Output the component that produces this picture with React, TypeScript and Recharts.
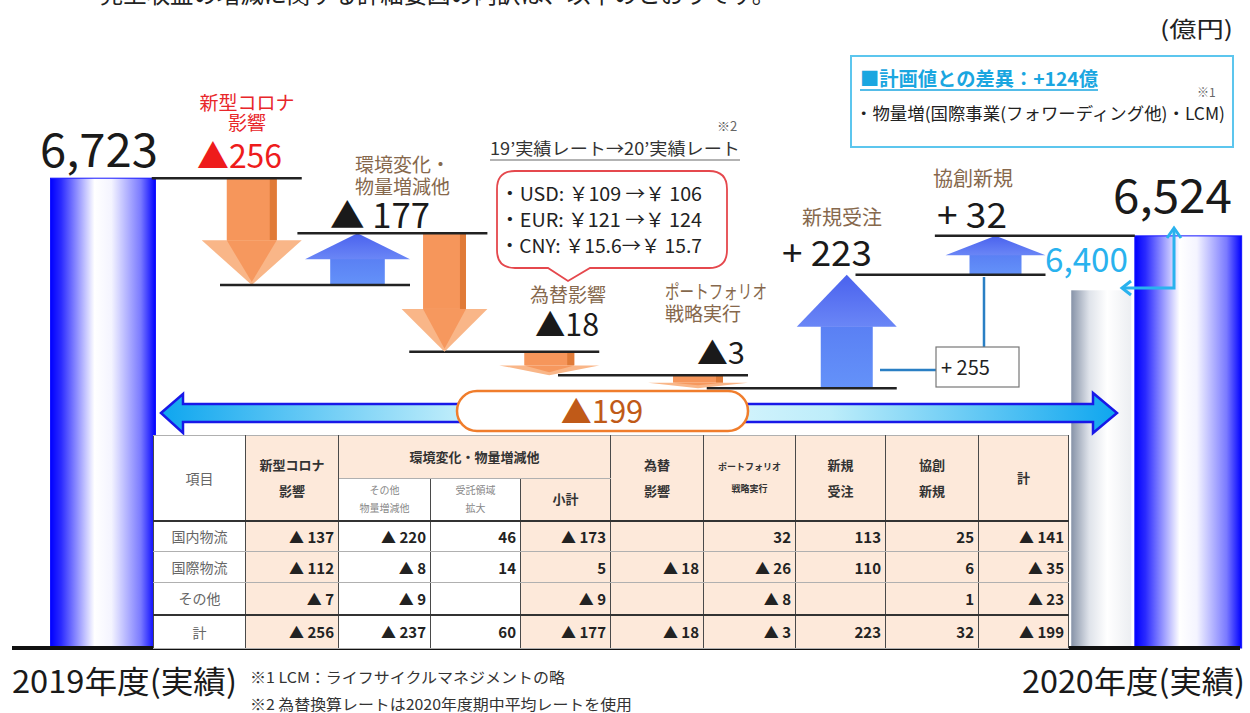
import React from "react"
import { ComposedChart, Bar, XAxis, YAxis } from "recharts"

const W = 1250
const H = 713
const FONT = "'Noto Sans CJK JP', 'Noto Sans', sans-serif"

// 億円
const AXIS_MIN = 5700
const AXIS_MAX = 6800

const categories = [
  "2019年度(実績)",
  "新型コロナ影響",
  "環境変化・物量増減他",
  "為替影響",
  "ポートフォリオ戦略実行",
  "新規受注",
  "協創新規",
  "2020年度(実績)",
]
const actual2019 = 6723
const actual2020 = 6524
const plan2020 = 6400
const planDiff = 124

// waterfall steps (環境変化 = 受託領域拡大 +60 と その他物量増減 ▲237)
const stepCats = [
  "新型コロナ影響",
  "環境変化・物量増減他",
  "環境変化・物量増減他",
  "為替影響",
  "ポートフォリオ戦略実行",
  "新規受注",
  "協創新規",
]
const stepDeltas = [-256, 60, -237, -18, -3, 223, 32]
const stepSlots = ["main", "left", "right", "main", "main", "main", "main"]

// table
const tableRowNames = ["国内物流", "国際物流", "その他", "計"]
const rowDomestic = [-137, -220, 46, -173, null, 32, 113, 25, -141]
const rowIntl = [-112, -8, 14, 5, -18, -26, 110, 6, -35]
const rowOther = [-7, -9, null, -9, null, -8, null, 1, -23]
const rowTotal = [-256, -237, 60, -177, -18, -3, 223, 32, -199]
const tableRows = [rowDomestic, rowIntl, rowOther, rowTotal]

const fxRates = ["・USD: ￥109 →￥ 106", "・EUR: ￥121 →￥ 124", "・CNY: ￥15.6→￥ 15.7"]

// build chart rows
const data: any[] = categories.map((name) => ({ name }))
data[0].main = [AXIS_MIN, actual2019]
data[0].mainKind = "total"
let level = actual2019
stepDeltas.forEach((d, i) => {
  const row = data.find((r) => r.name === stepCats[i])
  const next = level + d
  const slot = stepSlots[i]
  row[slot] = [Math.min(level, next), Math.max(level, next)]
  row[slot + "Kind"] = d < 0 ? "down" : "up"
  if (i === 0) row.afterTotal = true
  level = next
})
const last = data[data.length - 1]
last.left = [AXIS_MIN, plan2020]
last.leftKind = "plan"
last.right = [AXIS_MIN, actual2020]
last.rightKind = "total"

const sumOf = (cat: string) =>
  stepDeltas.filter((_, i) => stepCats[i] === cat).reduce((a, b) => a + b, 0)
const fmtStep = (v: number, space = "") => (v < 0 ? "▲" + space + Math.abs(v) : "+ " + v)
const fmtCell = (v: number | null) => (v == null ? "" : v < 0 ? "▲ " + Math.abs(v) : String(v))
const fmtNum = (v: number) => v.toLocaleString("en-US")

// 原図の縦軸は模式図（小さな増減を拡大）なので区分線形スケールにする
const yBreaks: [number, number][] = [
  [5700, 0],
  [6269, 0.401],
  [6272, 0.421],
  [6290, 0.457],
  [6400, 0.552],
  [6467, 0.56],
  [6492, 0.576],
  [6524, 0.636],
  [6527, 0.64],
  [6723, 0.725],
  [6800, 1],
]

function piecewiseScale(breaks: [number, number][]): any {
  let dom = [breaks[0][0], breaks[breaks.length - 1][0]]
  let rng = [0, 1]
  const frac = (v: number) => {
    if (v <= breaks[0][0]) return breaks[0][1]
    for (let i = 1; i < breaks.length; i++) {
      const [v1, t1] = breaks[i]
      if (v <= v1) {
        const [v0, t0] = breaks[i - 1]
        return t0 + ((v - v0) / (v1 - v0)) * (t1 - t0)
      }
    }
    return breaks[breaks.length - 1][1]
  }
  const s: any = (v: any) => {
    const n = Number(v)
    if (v == null || !Number.isFinite(n)) return NaN
    return rng[0] + frac(n) * (rng[1] - rng[0])
  }
  s.domain = (d?: number[]) => {
    if (d === undefined) return dom.slice()
    dom = d.slice()
    return s
  }
  s.range = (r?: number[]) => {
    if (r === undefined) return rng.slice()
    rng = r.slice()
    return s
  }
  s.copy = () => piecewiseScale(breaks).domain(dom).range(rng)
  s.ticks = () => dom.slice()
  s.clamp = () => s
  s.nice = () => s
  s.invert = (px: number) => {
    const t = (px - rng[0]) / (rng[1] - rng[0])
    for (let i = 1; i < breaks.length; i++) {
      const [v1, t1] = breaks[i]
      const [v0, t0] = breaks[i - 1]
      if (t <= t1) return v0 + ((t - t0) / (t1 - t0)) * (v1 - v0)
    }
    return dom[1]
  }
  return s
}

const yScale = piecewiseScale(yBreaks)

const LINE = "#222"

const downArrow = (cx: number, top: number, bottom: number, w: number) => {
  const h = bottom - top
  const headH = Math.min(h * 0.42, w * 0.5)
  const sw = w * 0.5
  const hy = bottom - headH
  return (
    <g>
      <rect x={cx - sw / 2} y={top} width={sw} height={hy - top} fill="#f6965b" />
      <rect x={cx + sw / 2 - sw * 0.14} y={top} width={sw * 0.14} height={hy - top} fill="#e07b38" />
      <polygon points={`${cx - w / 2},${hy} ${cx + w / 2},${hy} ${cx},${bottom}`} fill="#f9b688" />
      <polygon points={`${cx - sw / 2},${hy} ${cx + sw / 2},${hy} ${cx},${bottom - 3}`} fill="#f6985e" />
    </g>
  )
}

const upArrow = (cx: number, top: number, bottom: number, w: number) => {
  const h = bottom - top
  const headH = Math.min(h * 0.5, w * 0.52)
  const sw = w * 0.52
  const hy = top + headH
  return (
    <g>
      <rect x={cx - sw / 2} y={hy - 0.5} width={sw} height={bottom - hy + 0.5} fill="url(#gUpShaft)" />
      <polygon points={`${cx},${top} ${cx + w / 2},${hy} ${cx - w / 2},${hy}`} fill="url(#gUpHead)" />
    </g>
  )
}

const shapeFor = (slot: string) => (p: any) => {
  const row = p.payload || {}
  const kind = row[slot + "Kind"]
  const { x, y, width, height } = p
  if (!kind || ![x, y, width, height].every((n: any) => Number.isFinite(n))) return <g />
  const top = Math.min(y, y + height)
  const bottom = Math.max(y, y + height)
  const cx = x + width / 2
  let f = 1
  if (slot === "main" && kind === "total") f = 1.05
  if (slot === "left" && kind === "up") f = 1.75
  if (slot === "right" && kind === "down") f = 1.43
  if (slot === "right" && kind === "total") f = 1.78
  const w = width * f
  const left = cx - w / 2
  const right = cx + w / 2
  const L = row.afterTotal ? 150 : 190

  if (kind === "total") {
    return (
      <g>
        <rect x={left} y={top} width={w} height={bottom - top} fill="url(#gTotal)" stroke="#1414ff" strokeWidth={1} />
        {slot === "right" && <line x1={left - 200} x2={left} y1={top} y2={top} stroke={LINE} strokeWidth={2.5} />}
      </g>
    )
  }
  if (kind === "plan") {
    return <rect x={left} y={top} width={w} height={bottom - top} fill="url(#gPlan)" />
  }
  if (kind === "down") {
    return (
      <g>
        {downArrow(cx, top, bottom, w)}
        <line x1={right - L} x2={right} y1={top} y2={top} stroke={LINE} strokeWidth={2.5} />
      </g>
    )
  }
  return (
    <g>
      {upArrow(cx, top, bottom, w)}
      <line x1={right - L} x2={right} y1={bottom} y2={bottom} stroke={LINE} strokeWidth={2.5} />
    </g>
  )
}

const BROWN = "#86684c"

const Annotations = () => (
  <svg width={W} height={H} style={{ position: "absolute", left: 0, top: 0, pointerEvents: "none" }} fontFamily={FONT}>
    {/* cut-off heading */}
    <text x={100} y={3} fontSize={24} fill="#222" textLength={675} lengthAdjust="spacingAndGlyphs">
      売上収益の増減に関する詳細要因の内訳は、以下のとおりです。
    </text>
    <text x={1160} y={37} fontSize={22} fill="#222" textLength={73} lengthAdjust="spacingAndGlyphs">(億円)</text>

    {/* plan box */}
    <rect x={851} y={56} width={382} height={91} fill="#fff" stroke="#5cc6ee" strokeWidth={2} />
    <text x={860} y={86} fontSize={19} fontWeight={700} fill="#1aa6e0" textLength={238} lengthAdjust="spacingAndGlyphs">
      {"■計画値との差異：+" + planDiff + "億"}
    </text>
    <line x1={860} x2={1098} y1={90} y2={90} stroke="#1aa6e0" strokeWidth={1.5} />
    <text x={1197} y={97} fontSize={12} fill="#666">※1</text>
    <text x={855} y={120} fontSize={17} fill="#222" textLength={370} lengthAdjust="spacingAndGlyphs">
      ・物量増(国際事業(フォワーディング他)・LCM)
    </text>

    {/* totals */}
    <text x={40} y={167} fontSize={46} fill="#1a1a1a" textLength={118} lengthAdjust="spacingAndGlyphs">{fmtNum(actual2019)}</text>
    <text x={1113} y={213} fontSize={46} fill="#1a1a1a" textLength={119} lengthAdjust="spacingAndGlyphs">{fmtNum(actual2020)}</text>
    <text x={1045} y={272} fontSize={34} fill="#29b2ee" textLength={83} lengthAdjust="spacingAndGlyphs">{fmtNum(plan2020)}</text>

    {/* corona */}
    <text x={247} y={110} fontSize={19} fill="#e8262a" textAnchor="middle">新型コロナ</text>
    <text x={247} y={130} fontSize={19} fill="#e8262a" textAnchor="middle">影響</text>
    <text x={197} y={168} fontSize={33} fill="#ee1c1c" textLength={85} lengthAdjust="spacingAndGlyphs">{fmtStep(sumOf("新型コロナ影響"))}</text>

    {/* environment */}
    <text x={355} y={172} fontSize={19} fill={BROWN}>環境変化・</text>
    <text x={355} y={194} fontSize={19} fill={BROWN}>物量増減他</text>
    <text x={330} y={228} fontSize={34} fill="#1a1a1a" textLength={100} lengthAdjust="spacingAndGlyphs">{fmtStep(sumOf("環境変化・物量増減他"), " ")}</text>

    {/* fx */}
    <text x={490} y={155} fontSize={17} fill="#333" textLength={250} lengthAdjust="spacingAndGlyphs">19’実績レート→20’実績レート</text>
    <line x1={490} x2={740} y1={160} y2={160} stroke="#9a9a9a" strokeWidth={1.5} />
    <text x={717} y={131} fontSize={13} fill="#666">※2</text>
    <path
      d="M515,171 H709 Q727,171 727,189 V250 Q727,268 709,268 H590 L568,281 L548,268 H515 Q497,268 497,250 V189 Q497,171 515,171 Z"
      fill="#fff"
      stroke="#e5484d"
      strokeWidth={1.8}
    />
    {fxRates.map((t, i) => (
      <text key={t} x={500} y={201 + i * 26} fontSize={19} fill="#222" textLength={202} lengthAdjust="spacingAndGlyphs">{t}</text>
    ))}
    <text x={568} y={302} fontSize={19} fill={BROWN} textAnchor="middle">為替影響</text>
    <text x={535} y={336} fontSize={31} fill="#1a1a1a" textLength={64} lengthAdjust="spacingAndGlyphs">{fmtStep(sumOf("為替影響"))}</text>

    {/* portfolio */}
    <text x={665} y={299} fontSize={19} fill={BROWN} textLength={102} lengthAdjust="spacingAndGlyphs">ポートフォリオ</text>
    <text x={665} y={321} fontSize={19} fill={BROWN}>戦略実行</text>
    <text x={697} y={364} fontSize={30} fill="#1a1a1a" textLength={48} lengthAdjust="spacingAndGlyphs">{fmtStep(sumOf("ポートフォリオ戦略実行"))}</text>

    {/* new orders */}
    <text x={802} y={225} fontSize={20} fill={BROWN}>新規受注</text>
    <text x={782} y={266} fontSize={35} fill="#1a1a1a" textLength={90} lengthAdjust="spacingAndGlyphs">{fmtStep(sumOf("新規受注"))}</text>

    {/* co-creation */}
    <text x={933} y={186} fontSize={20} fill={BROWN}>協創新規</text>
    <text x={937} y={228} fontSize={35} fill="#1a1a1a" textLength={70} lengthAdjust="spacingAndGlyphs">{fmtStep(sumOf("協創新規"))}</text>

    {/* +255 */}
    <path d="M880,370 H936 M984,347 V277" stroke="#2a7fc4" strokeWidth={2.5} fill="none" />
    <rect x={936} y={347} width={83} height={40} fill="#fff" stroke="#777" strokeWidth={1.2} />
    <text x={941} y={375} fontSize={20} fill="#222">{"+ " + (sumOf("新規受注") + sumOf("協創新規"))}</text>

    {/* plan vs actual elbow */}
    <path d="M1122,288 H1174 V229" stroke="#29b2ee" strokeWidth={3} fill="none" />
    <path d="M1131,281 L1122,288 L1131,295" stroke="#29b2ee" strokeWidth={3} fill="none" />
    <path d="M1167,238 L1174,228 L1181,238" stroke="#29b2ee" strokeWidth={3} fill="none" />

    {/* total difference arrow */}
    <defs>
      <linearGradient id="gBig" x1="0" x2="1" y1="0" y2="0">
        <stop offset="0" stopColor="#0ea6ef" />
        <stop offset="0.32" stopColor="#c4effb" />
        <stop offset="0.5" stopColor="#e8f9fe" />
        <stop offset="0.7" stopColor="#bdedfa" />
        <stop offset="1" stopColor="#0ea6ef" />
      </linearGradient>
    </defs>
    <polygon
      points="161,413 183,394 183,404 1093,404 1093,393 1117,413 1093,433 1093,422 183,422 183,433"
      fill="url(#gBig)"
      stroke="#1818e8"
      strokeWidth={2.5}
      strokeLinejoin="miter"
    />
    <rect x={457} y={391} width={291} height={40} rx={20} fill="#fff" stroke="#f07d2c" strokeWidth={2.5} />
    <text x={602} y={423} fontSize={31} fill="#c05a18" textAnchor="middle">
      {fmtStep(rowTotal[rowTotal.length - 1] as number)}
    </text>

    {/* base line and footer */}
    <line x1={12} x2={1240} y1={648} y2={648} stroke="#111" strokeWidth={4} />
    <text x={12} y={693} fontSize={31} fill="#1a1a1a" textLength={225} lengthAdjust="spacingAndGlyphs">{categories[0]}</text>
    <text x={1022} y={693} fontSize={31} fill="#1a1a1a" textLength={223} lengthAdjust="spacingAndGlyphs">{categories[categories.length - 1]}</text>
    <text x={250} y={683} fontSize={15} fill="#333" textLength={315} lengthAdjust="spacingAndGlyphs">※1 LCM：ライフサイクルマネジメントの略</text>
    <text x={250} y={710} fontSize={15} fill="#333" textLength={382} lengthAdjust="spacingAndGlyphs">※2 為替換算レートは2020年度期中平均レートを使用</text>
  </svg>
)

const PEACH = "#fde9da"
const colWidths = [92, 93, 92, 90, 90, 93, 92, 90, 93, 90]
const peachCols = [false, true, false, false, true, true, true, true, true, true]

const cellBase: React.CSSProperties = {
  borderLeft: "1.5px solid #4a4a4a",
  borderRight: "1.5px solid #4a4a4a",
  borderTop: "1px solid #b0b0b0",
  borderBottom: "1px solid #b0b0b0",
  padding: 0,
  textAlign: "center",
  verticalAlign: "middle",
}

const hd = (bg: string, extra: React.CSSProperties = {}): React.CSSProperties => ({
  ...cellBase,
  background: bg,
  fontWeight: 700,
  fontSize: 13,
  color: "#333",
  lineHeight: "26px",
  ...extra,
})

const BreakdownTable = () => (
  <table
    style={{
      position: "absolute",
      left: 153,
      top: 435,
      width: 915,
      borderCollapse: "collapse",
      tableLayout: "fixed",
      fontFamily: FONT,
    }}
  >
    <colgroup>
      {colWidths.map((w, i) => (
        <col key={i} style={{ width: w }} />
      ))}
    </colgroup>
    <thead>
      <tr style={{ height: 43 }}>
        <th rowSpan={2} style={hd("#fff", { fontWeight: 400, color: "#666", fontSize: 14 })}>項目</th>
        <th rowSpan={2} style={hd(PEACH)}>新型コロナ<br />影響</th>
        <th colSpan={3} style={hd(PEACH)}>環境変化・物量増減他</th>
        <th rowSpan={2} style={hd(PEACH)}>為替<br />影響</th>
        <th rowSpan={2} style={hd(PEACH, { fontSize: 9, lineHeight: "22px" })}>ポートフォリオ<br />戦略実行</th>
        <th rowSpan={2} style={hd(PEACH)}>新規<br />受注</th>
        <th rowSpan={2} style={hd(PEACH)}>協創<br />新規</th>
        <th rowSpan={2} style={hd(PEACH)}>計</th>
      </tr>
      <tr style={{ height: 42 }}>
        <th style={hd("#fff", { fontWeight: 400, color: "#888", fontSize: 10, lineHeight: "18px" })}>その他<br />物量増減他</th>
        <th style={hd("#fff", { fontWeight: 400, color: "#888", fontSize: 10, lineHeight: "18px" })}>受託領域<br />拡大</th>
        <th style={hd(PEACH)}>小計</th>
      </tr>
    </thead>
    <tbody>
      {tableRows.map((vals, r) => (
        <tr key={r} style={{ height: r === 3 ? 34 : r === 2 ? 32 : 31 }}>
          <td
            style={{
              ...cellBase,
              background: "#fff",
              color: "#666",
              fontSize: 14,
              borderTop: r === 0 || r === 3 ? "2px solid #333" : cellBase.borderTop,
            }}
          >
            {tableRowNames[r]}
          </td>
          {vals.map((v, c) => (
            <td
              key={c}
              style={{
                ...cellBase,
                background: peachCols[c + 1] ? PEACH : "#fff",
                textAlign: "right",
                paddingRight: 4,
                fontSize: 15,
                fontWeight: 700,
                color: "#222",
                borderTop: r === 0 || r === 3 ? "2px solid #333" : cellBase.borderTop,
              }}
            >
              {fmtCell(v)}
            </td>
          ))}
        </tr>
      ))}
    </tbody>
  </table>
)

export default function App() {
  return (
    <div
      style={{
        position: "absolute",
        left: 0,
        top: 0,
        width: W,
        height: H,
        overflow: "hidden",
        background: "#fff",
        fontFamily: FONT,
      }}
    >
      <ComposedChart width={W} height={H} data={data} margin={{ top: 0, right: 10, bottom: 64, left: 12 }} barGap={27}>
        <defs>
          <linearGradient id="gTotal" x1="0" x2="1" y1="0" y2="0">
            <stop offset="0" stopColor="#0000ff" />
            <stop offset="0.1" stopColor="#2a2aff" />
            <stop offset="0.42" stopColor="#ffffff" />
            <stop offset="0.58" stopColor="#f4f4ff" />
            <stop offset="0.86" stopColor="#7a7aff" />
            <stop offset="1" stopColor="#0000ff" />
          </linearGradient>
          <linearGradient id="gPlan" x1="0" x2="1" y1="0" y2="0">
            <stop offset="0" stopColor="#8793a8" />
            <stop offset="0.3" stopColor="#dfe3ea" />
            <stop offset="0.6" stopColor="#ffffff" />
            <stop offset="1" stopColor="#eceef2" />
          </linearGradient>
          <linearGradient id="gUpHead" x1="0" x2="0" y1="0" y2="1">
            <stop offset="0" stopColor="#4a62ee" />
            <stop offset="1" stopColor="#6a86f6" />
          </linearGradient>
          <linearGradient id="gUpShaft" x1="0" x2="0" y1="0" y2="1">
            <stop offset="0" stopColor="#5a80f4" />
            <stop offset="1" stopColor="#6492f9" />
          </linearGradient>
        </defs>
        <XAxis
          xAxisId="main"
          dataKey="name"
          type="category"
          height={1}
          tick={false}
          tickLine={false}
          axisLine={false}
          padding={{ left: 17, right: 21 }}
        />
        <XAxis xAxisId="pair" dataKey="name" type="category" hide padding={{ left: 17, right: 21 }} />
        <YAxis type="number" hide domain={[AXIS_MIN, AXIS_MAX]} scale={yScale} />
        <Bar xAxisId="main" dataKey="main" barSize={100} shape={shapeFor("main")} isAnimationActive={false} />
        <Bar xAxisId="pair" dataKey="left" barSize={60} shape={shapeFor("left")} isAnimationActive={false} />
        <Bar xAxisId="pair" dataKey="right" barSize={60} shape={shapeFor("right")} isAnimationActive={false} />
      </ComposedChart>
      <Annotations />
      <BreakdownTable />
    </div>
  )
}
